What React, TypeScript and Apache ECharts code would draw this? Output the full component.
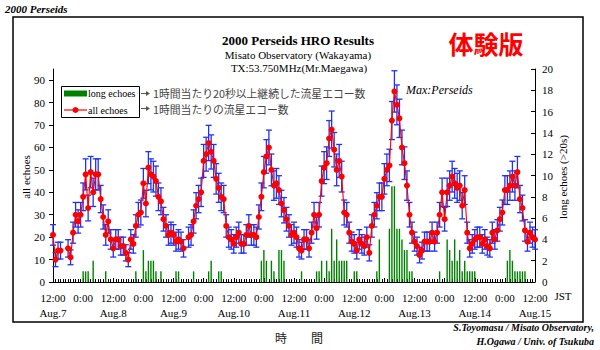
import React, { useEffect, useRef } from 'react';
import * as echarts from 'echarts';

// hour index 0 = Aug 7 12:00 JST, one value per hour up to Aug 15 12:00
const hourLabels = ['12:00', '0:00'];
const dayLabels = ['Aug.7', 'Aug.8', 'Aug.9', 'Aug.10', 'Aug.11', 'Aug.12', 'Aug.13', 'Aug.14', 'Aug.15'];
const leftTicks = [0, 10, 20, 30, 40, 50, 60, 70, 80, 90];

// all echoes per hour (null = no data)
const allEchoes: (number | null)[] = [
  21, 10, 14, 14, null, null, 15, 11, 22, 30, 27, 30, 38, 48, 33, 49, 40, 48, 48, 37, 29, 21, 27, 19,
  15, 19, 19, 16, 16, 13, 10, 19, 17, 25, 30, 31, 44, 35, 51, 48, 47, 45, 38, 36, 28, 25, 21, 22,
  21, 18, 19, 18, 15, null, 20, 21, 27, 34, 37, 40, 54, 57, 62, 58, 54, 46, 42, 38, 37, 25, 20, 19,
  17, 20, 22, 17, 17, 21, 25, 21, 21, 20, 29, 38, 49, 56, 60, 50, 43, 44, 41, 35, 32, 28, 25, 21,
  22, 20, 15, 14, 19, 19, 15, 22, 30, 24, 30, 45, 51, 53, 64, 68, 59, 50, 54, 47, 31, 30, 22, 18,
  17, 14, 19, 17, 16, 20, 13, 25, 30, 34, 38, 38, 46, 50, 52, 72, 85, 79, 73, 60, 53, 43, 30, 22,
  18, 16, 12, 14, 18, 18, 18, 22, 18, 22, 30, 40, 28, 40, 43, 47, 44, 42, 43, 34, 41, 22, 15, 17,
  19, 20, 20, 17, 19, 16, 15, 22, 19, 23, 28, 31, 41, 41, 43, 47, 43, 49, 37, 33, 23, 18, 22, 20,
  19,
];

// long echoes (>20 s) per hour
const longEchoes: number[] = [
  0, 0, 0, 0, 0, 0, 0, 0, 0, 0, 0, 0, 1, 1, 1, 0, 2, 0, 0, 0, 0, 1, 0, 0,
  0, 0, 0, 0, 0, 0, 0, 0, 0, 1, 0, 0, 3, 1, 2, 2, 2, 1, 0, 1, 0, 0, 0, 0,
  0, 1, 1, 0, 0, 0, 0, 0, 1, 0, 0, 0, 0, 0, 1, 2, 0, 0, 1, 1, 0, 0, 0, 0,
  0, 0, 0, 0, 0, 0, 0, 0, 0, 0, 0, 2, 3, 2, 0, 2, 1, 0, 3, 3, 2, 0, 0, 0,
  0, 0, 0, 1, 0, 0, 0, 0, 0, 1, 1, 2, 0, 2, 1, 5, 2, 4, 2, 2, 2, 2, 0, 0,
  1, 1, 0, 0, 0, 0, 0, 0, 0, 1, 4, 0, 0, 0, 5, 9, 9, 5, 5, 4, 3, 3, 1, 1,
  0, 0, 0, 0, 0, 0, 0, 0, 0, 0, 1, 0, 0, 4, 3, 2, 4, 2, 3, 1, 2, 1, 1, 1,
  1, 0, 0, 0, 0, 0, 0, 0, 0, 0, 0, 0, 0, 2, 3, 2, 1, 1, 1, 1, 1, 0, 0, 0,
  0,
];

const SERIF = '"Liberation Serif", "DejaVu Serif", serif';
const JP = '"Noto Sans CJK JP", "Noto Sans", sans-serif';

export default function App() {
  const ref = useRef<HTMLDivElement>(null);
  useEffect(() => {
    const chart = echarts.init(ref.current!, null, { renderer: 'svg' });
    const lastHour = allEchoes.length - 1;
    const option: any = {
      animation: false,
      backgroundColor: '#ffffff',
      grid: { left: 53, right: 65, top: 69, bottom: 68 },
      xAxis: {
        type: 'value',
        min: 0,
        max: lastHour,
        interval: 12,
        axisLine: { lineStyle: { color: '#000', width: 1 } },
        axisTick: { inside: true, length: 4, lineStyle: { color: '#000' } },
        minorTick: { show: true, splitNumber: 12, length: 3, lineStyle: { color: '#000' } },
        splitLine: { show: false },
        axisLabel: {
          fontFamily: SERIF,
          fontSize: 11,
          color: '#000',
          lineHeight: 15,
          margin: 8,
          formatter: (v: number) => {
            const h = Math.round(v);
            if (h % 24 === 0) return hourLabels[0] + '\n' + dayLabels[h / 24];
            return hourLabels[1];
          },
        },
      },
      yAxis: [
        {
          type: 'value',
          min: 0,
          max: 95,
          interval: 10,
          position: 'left',
          axisLine: { show: true, lineStyle: { color: '#000', width: 1 } },
          axisTick: { show: true, inside: false, length: 4, customValues: leftTicks, lineStyle: { color: '#000' } },
          axisLabel: { fontFamily: SERIF, fontSize: 11, color: '#000', margin: 8, customValues: leftTicks },
          splitLine: { show: false },
        },
        {
          type: 'value',
          min: 0,
          max: 20,
          interval: 2,
          position: 'right',
          axisLine: { show: true, lineStyle: { color: '#000', width: 1 } },
          axisTick: { show: true, inside: true, length: 4, lineStyle: { color: '#000' } },
          axisLabel: { fontFamily: SERIF, fontSize: 11, color: '#000', margin: 7 },
          splitLine: { show: false },
        },
      ],
      series: [
        {
          name: 'long echoes',
          type: 'bar',
          yAxisIndex: 1,
          barWidth: 1.4,
          itemStyle: { color: '#008000' },
          data: longEchoes.map((v, i) => [i, v]).filter((d) => d[1] > 0),
          z: 2,
        },
        {
          name: 'error',
          type: 'custom',
          yAxisIndex: 0,
          data: allEchoes.map((v, i) => [i, v]).filter((d) => d[1] !== null),
          renderItem: (params: any, api: any) => {
            const x = api.value(0);
            const v = api.value(1);
            const e = Math.sqrt(v);
            const p1 = api.coord([x, v + e]);
            const p2 = api.coord([x, Math.max(0, v - e)]);
            const w = 3;
            const style = { stroke: '#2233ee', lineWidth: 1.3 };
            return {
              type: 'group',
              children: [
                { type: 'line', shape: { x1: p1[0], y1: p1[1], x2: p2[0], y2: p2[1] }, style },
                { type: 'line', shape: { x1: p1[0] - w, y1: p1[1], x2: p1[0] + w, y2: p1[1] }, style },
                { type: 'line', shape: { x1: p2[0] - w, y1: p2[1], x2: p2[0] + w, y2: p2[1] }, style },
              ],
            };
          },
          z: 3,
        },
        {
          name: 'all echoes',
          type: 'line',
          yAxisIndex: 0,
          data: allEchoes.map((v, i) => [i, v === null ? '-' : v]),
          connectNulls: false,
          symbol: 'circle',
          symbolSize: 6,
          itemStyle: { color: '#ff0000' },
          lineStyle: { color: '#ff0000', width: 1.1 },
          z: 5,
        },
      ],
      graphic: [
        // outer frame
        { type: 'rect', shape: { x: 13, y: 17, width: 570, height: 305 }, style: { fill: 'none', stroke: '#000', lineWidth: 1.5 }, z: 0 },
        { type: 'text', left: 5, top: 3, style: { text: '2000 Perseids', font: `italic bold 11px ${SERIF}`, fill: '#000' } },
        { type: 'text', x: 298, y: 40, style: { text: '2000 Perseids HRO Results', font: `bold 13px ${SERIF}`, fill: '#000', align: 'center', verticalAlign: 'middle' } },
        { type: 'text', x: 298, y: 55, style: { text: 'Misato Observatory (Wakayama)', font: `11px ${SERIF}`, fill: '#000', align: 'center', verticalAlign: 'middle' } },
        { type: 'text', x: 299, y: 68, style: { text: 'TX:53.750MHz(Mr.Maegawa)', font: `11px ${SERIF}`, fill: '#000', align: 'center', verticalAlign: 'middle' } },
        { type: 'text', x: 486, y: 43, style: { text: '体験版', font: `bold 25px ${JP}`, fill: '#ff0000', align: 'center', verticalAlign: 'middle' } },
        // legend
        { type: 'rect', shape: { x: 61.5, y: 86.5, width: 78, height: 31 }, style: { fill: '#fff', stroke: '#000', lineWidth: 1 }, z: 10 },
        { type: 'rect', shape: { x: 64, y: 90.5, width: 23, height: 6 }, style: { fill: '#008000' }, z: 11 },
        { type: 'text', x: 88, y: 93.5, style: { text: 'long echoes', font: `10px ${SERIF}`, fill: '#000', verticalAlign: 'middle' }, z: 11 },
        { type: 'line', shape: { x1: 64, y1: 110, x2: 87, y2: 110 }, style: { stroke: '#ff0000', lineWidth: 1.2 }, z: 11 },
        { type: 'circle', shape: { cx: 75.5, cy: 110, r: 3 }, style: { fill: '#ff0000' }, z: 11 },
        { type: 'text', x: 88, y: 110, style: { text: 'all echoes', font: `10px ${SERIF}`, fill: '#000', verticalAlign: 'middle' }, z: 11 },
        // annotations
        { type: 'line', shape: { x1: 141, y1: 93.5, x2: 148, y2: 93.5 }, style: { stroke: '#555', lineWidth: 1 } },
        { type: 'polygon', shape: { points: [[150, 93.5], [146, 91], [146, 96]] }, style: { fill: '#555' } },
        { type: 'line', shape: { x1: 141, y1: 108.5, x2: 148, y2: 108.5 }, style: { stroke: '#555', lineWidth: 1 } },
        { type: 'polygon', shape: { points: [[150, 108.5], [146, 106], [146, 111]] }, style: { fill: '#555' } },
        { type: 'text', x: 153, y: 93, style: { text: '1時間当たり20秒以上継続した流星エコー数', font: `10.8px ${JP}`, fill: '#444', verticalAlign: 'middle' } },
        { type: 'text', x: 153, y: 109, style: { text: '1時間当たりの流星エコー数', font: `10.8px ${JP}`, fill: '#444', verticalAlign: 'middle' } },
        { type: 'text', x: 406, y: 90, style: { text: 'Max:Perseids', font: `italic 12px ${SERIF}`, fill: '#000', verticalAlign: 'middle' } },
        // axis names
        { type: 'text', x: 26, y: 177, rotation: Math.PI / 2, style: { text: 'all echoes', font: `11px ${SERIF}`, fill: '#000', align: 'center', verticalAlign: 'middle' } },
        { type: 'text', x: 563, y: 177, rotation: Math.PI / 2, style: { text: 'long echoes (>20s)', font: `11px ${SERIF}`, fill: '#000', align: 'center', verticalAlign: 'middle' } },
        { type: 'text', x: 563, y: 296, style: { text: 'JST', font: `11px ${SERIF}`, fill: '#000', align: 'center', verticalAlign: 'middle' } },
        { type: 'text', x: 281, y: 337, style: { text: '時', font: `12px ${JP}`, fill: '#222', align: 'center', verticalAlign: 'middle' } },
        { type: 'text', x: 317, y: 337, style: { text: '間', font: `12px ${JP}`, fill: '#222', align: 'center', verticalAlign: 'middle' } },
        // credits
        { type: 'text', x: 594, y: 327, style: { text: 'S.Toyomasu / Misato Observatory,', font: `italic bold 10px ${SERIF}`, fill: '#000', align: 'right', verticalAlign: 'middle' } },
        { type: 'text', x: 594, y: 341, style: { text: 'H.Ogawa / Univ. of Tsukuba', font: `italic bold 10px ${SERIF}`, fill: '#000', align: 'right', verticalAlign: 'middle' } },
      ],
    };
    chart.setOption(option);
    return () => chart.dispose();
  }, []);
  return <div ref={ref} style={{ position: 'fixed', left: 0, top: 0, width: 600, height: 350, background: '#fff' }} />;
}
